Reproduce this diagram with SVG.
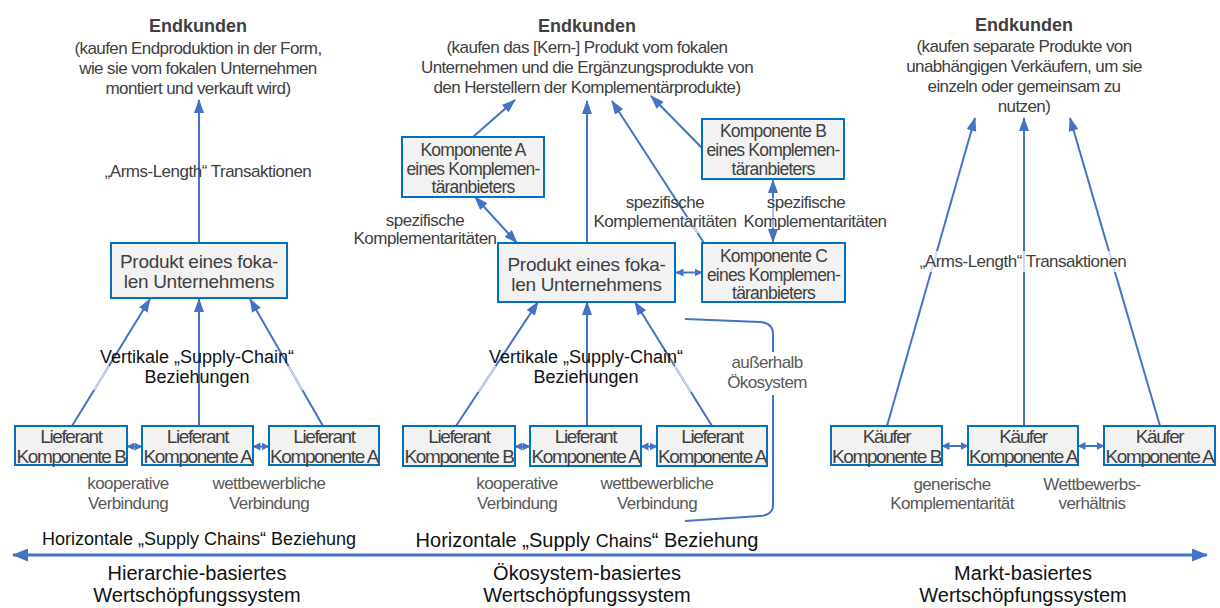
<svg xmlns="http://www.w3.org/2000/svg" width="1220" height="608" viewBox="0 0 1220 608">
  <defs>
    <style>
      text { font-family: "Liberation Sans", Arial, sans-serif; text-anchor: middle; }
      .box { fill: #f2f2f2; stroke: #0070c0; stroke-width: 2; }
      .title { font-size: 18px; font-weight: bold; fill: #404040; }
      .sub { font-size: 17px; letter-spacing: -0.6px; fill: #404040; }
      .bx { font-size: 19px; letter-spacing: -1.4px; fill: #404040; }
      .bx3 { font-size: 17.5px; letter-spacing: -0.8px; fill: #404040; }
      .focal { font-size: 19px; letter-spacing: -0.3px; fill: #404040; }
      .lbl { font-size: 17px; letter-spacing: -0.6px; fill: #595959; }
      .arm { font-size: 17px; letter-spacing: -0.5px; fill: #404040; }
      .dark { font-size: 18px; fill: #111111; }
      .sys { font-size: 20px; fill: #111111; }
      .conn { stroke: #4472c4; stroke-width: 2; fill: none; }
      .fade { stroke: #c8d5ef; stroke-width: 2; fill: none; }
      .arrow { marker-end: url(#ah); }
      .both { marker-start: url(#ah); marker-end: url(#ah); }
      .small { marker-start: url(#ahs); marker-end: url(#ahs); }
    </style>
    <marker id="ah" markerUnits="userSpaceOnUse" viewBox="0 0 14 10" refX="13" refY="5" markerWidth="14" markerHeight="10" orient="auto-start-reverse">
      <path d="M0,0 L14,5 L0,10 z" fill="#4472c4"/>
    </marker>
    <marker id="ahs" markerUnits="userSpaceOnUse" viewBox="0 0 8 8" refX="7.5" refY="4" markerWidth="8" markerHeight="8" orient="auto-start-reverse">
      <path d="M0,0 L8,4 L0,8 z" fill="#4472c4"/>
    </marker>
    <marker id="ahb" markerUnits="userSpaceOnUse" viewBox="0 0 16 13" refX="15" refY="6.5" markerWidth="16" markerHeight="13" orient="auto-start-reverse">
      <path d="M0,0 L16,6.5 L0,13 z" fill="#4472c4"/>
    </marker>
  </defs>

  <rect width="1220" height="608" fill="#ffffff"/>

  <!-- connectors -->
  <g id="connectors">
    <!-- hierarchy-based system -->
    <line class="conn arrow" x1="199" y1="243" x2="199" y2="100"/>
    <line class="conn arrow" x1="72" y1="426" x2="150" y2="299"/>
    <line class="conn arrow" x1="199" y1="426" x2="199" y2="299"/>
    <line class="conn arrow" x1="323" y1="426" x2="250" y2="299"/>
    <line class="fade" x1="94" y1="390" x2="109" y2="366"/>
    <line class="fade" x1="302.6" y1="390" x2="288.5" y2="366"/>
    <line class="conn small" x1="127" y1="446.5" x2="142" y2="446.5"/>
    <line class="conn small" x1="253" y1="446.5" x2="269" y2="446.5"/>

    <!-- ecosystem-based system -->
    <line class="conn arrow" x1="473" y1="137" x2="515" y2="100"/>
    <line class="conn arrow" x1="587" y1="243" x2="587" y2="101"/>
    <line class="conn arrow" x1="704" y1="243" x2="612" y2="101"/>
    <line class="conn arrow" x1="702" y1="148" x2="651" y2="96"/>
    <line class="conn both" x1="475" y1="197" x2="517" y2="243"/>
    <line class="conn both" x1="773" y1="180" x2="773" y2="242"/>
    <line class="conn small" x1="676" y1="272.5" x2="702" y2="272.5"/>
    <line class="fade" x1="687.2" y1="217" x2="697.5" y2="233"/>
    <line x1="773" y1="198" x2="773" y2="228" stroke="#a9bfe8" stroke-width="2"/>

    <line class="conn arrow" x1="456" y1="426" x2="538" y2="302"/>
    <line class="conn arrow" x1="587" y1="426" x2="587" y2="302"/>
    <line class="conn arrow" x1="712" y1="426" x2="635" y2="302"/>
    <line class="fade" x1="478.2" y1="392" x2="495.6" y2="366"/>
    <line class="fade" x1="691.2" y1="392" x2="674.8" y2="366"/>
    <line class="conn small" x1="515" y1="446.5" x2="530" y2="446.5"/>
    <line class="conn small" x1="641" y1="446.5" x2="657" y2="446.5"/>

    <!-- bracket around the supply-chain part outside the ecosystem -->
    <path class="conn" d="M685,319 L760,322 Q773,323 773,334 L773,352"/>
    <path class="conn" d="M773,395 L773,505 Q773,515 760,516 L685,521"/>

    <!-- market-based system -->
    <line class="conn arrow" x1="887" y1="426" x2="975" y2="118"/>
    <line class="conn arrow" x1="1024" y1="426" x2="1024" y2="118"/>
    <line class="conn arrow" x1="1160" y1="426" x2="1070" y2="118"/>
    <line class="conn small" x1="942" y1="446" x2="968" y2="446"/>
    <line class="conn small" x1="1078" y1="446" x2="1104" y2="446"/>

    <!-- horizontal axis -->
    <line x1="13" y1="555" x2="1207" y2="555" stroke="#4472c4" stroke-width="3" marker-start="url(#ahb)" marker-end="url(#ahb)"/>
  </g>

  <!-- customers -->
  <g id="endkunden-hierarchie">
    <text class="title" x="198" y="31.5">Endkunden</text>
    <text class="sub" x="198" y="53.5">(kaufen Endproduktion in der Form,</text>
    <text class="sub" x="198" y="73.5">wie sie vom fokalen Unternehmen</text>
    <text class="sub" x="198" y="93.5">montiert und verkauft wird)</text>
  </g>
  <g id="endkunden-oekosystem">
    <text class="title" x="587" y="31.5">Endkunden</text>
    <text class="sub" x="587" y="52.5">(kaufen das  [Kern-] Produkt vom fokalen</text>
    <text class="sub" x="587" y="72.5">Unternehmen und die Ergänzungsprodukte von</text>
    <text class="sub" x="587" y="92.5">den Herstellern der Komplementärprodukte)</text>
  </g>
  <g id="endkunden-markt">
    <text class="title" x="1024" y="31">Endkunden</text>
    <text class="sub" x="1024" y="52">(kaufen separate Produkte von</text>
    <text class="sub" x="1024" y="72">unabhängigen Verkäufern, um sie</text>
    <text class="sub" x="1024" y="92">einzeln oder gemeinsam zu</text>
    <text class="sub" x="1024" y="112">nutzen)</text>
  </g>

  <!-- hierarchy-based nodes -->
  <g id="fokal-hierarchie">
    <rect class="box" x="111" y="243" width="176" height="55"/>
    <text class="focal" x="199" y="268">Produkt eines foka-</text>
    <text class="focal" x="199" y="288">len Unternehmens</text>
  </g>
  <g id="lieferant-h1">
    <rect class="box" x="15" y="426" width="112" height="39"/>
    <text class="bx" x="71" y="443">Lieferant</text>
    <text class="bx" x="71" y="463">Komponente B</text>
  </g>
  <g id="lieferant-h2">
    <rect class="box" x="142" y="426" width="111" height="39"/>
    <text class="bx" x="197.5" y="443">Lieferant</text>
    <text class="bx" x="197.5" y="463">Komponente A</text>
  </g>
  <g id="lieferant-h3">
    <rect class="box" x="269" y="426" width="110" height="39"/>
    <text class="bx" x="324" y="443">Lieferant</text>
    <text class="bx" x="324" y="463">Komponente A</text>
  </g>

  <!-- ecosystem-based nodes -->
  <g id="komplement-a">
    <rect class="box" x="402" y="137" width="142" height="60"/>
    <text class="bx3" x="473" y="155.5">Komponente A</text>
    <text class="bx3" x="473" y="174.5">eines Komplemen-</text>
    <text class="bx3" x="473" y="193">täranbieters</text>
  </g>
  <g id="komplement-b">
    <rect class="box" x="702" y="119" width="142" height="60"/>
    <text class="bx3" x="773" y="137">Komponente B</text>
    <text class="bx3" x="773" y="156">eines Komplemen-</text>
    <text class="bx3" x="773" y="174.5">täranbieters</text>
  </g>
  <g id="komplement-c">
    <rect class="box" x="702" y="243" width="143" height="59"/>
    <text class="bx3" x="773.5" y="261.5">Komponente C</text>
    <text class="bx3" x="773.5" y="280.5">eines Komplemen-</text>
    <text class="bx3" x="773.5" y="299">täranbieters</text>
  </g>
  <g id="fokal-oekosystem">
    <rect class="box" x="498" y="243" width="177" height="59"/>
    <text class="focal" x="586.5" y="271">Produkt eines foka-</text>
    <text class="focal" x="586.5" y="291">len Unternehmens</text>
  </g>
  <g id="lieferant-o1">
    <rect class="box" x="403" y="426" width="112" height="40"/>
    <text class="bx" x="459" y="443">Lieferant</text>
    <text class="bx" x="459" y="463">Komponente B</text>
  </g>
  <g id="lieferant-o2">
    <rect class="box" x="530" y="426" width="111" height="40"/>
    <text class="bx" x="585.5" y="443">Lieferant</text>
    <text class="bx" x="585.5" y="463">Komponente A</text>
  </g>
  <g id="lieferant-o3">
    <rect class="box" x="657" y="426" width="110" height="40"/>
    <text class="bx" x="712" y="443">Lieferant</text>
    <text class="bx" x="712" y="463">Komponente A</text>
  </g>

  <!-- market-based nodes -->
  <g id="kaeufer-1">
    <rect class="box" x="831" y="426" width="111" height="39"/>
    <text class="bx" x="886.5" y="443">Käufer</text>
    <text class="bx" x="886.5" y="463">Komponente B</text>
  </g>
  <g id="kaeufer-2">
    <rect class="box" x="968" y="426" width="110" height="39"/>
    <text class="bx" x="1023" y="443">Käufer</text>
    <text class="bx" x="1023" y="463">Komponente A</text>
  </g>
  <g id="kaeufer-3">
    <rect class="box" x="1104" y="426" width="111" height="39"/>
    <text class="bx" x="1159.5" y="443">Käufer</text>
    <text class="bx" x="1159.5" y="463">Komponente A</text>
  </g>

  <!-- relationship labels -->
  <g id="labels">
    <text class="arm" x="208" y="177">„Arms-Length“ Transaktionen</text>
    <text class="dark" x="197" y="363">Vertikale „Supply-Chain“</text>
    <text class="dark" x="197" y="383">Beziehungen</text>
    <text class="lbl" x="128" y="489">kooperative</text>
    <text class="lbl" x="128" y="509">Verbindung</text>
    <text class="lbl" x="269" y="489">wettbewerbliche</text>
    <text class="lbl" x="269" y="509">Verbindung</text>

    <text class="arm" x="425" y="226">spezifische</text>
    <text class="arm" x="425" y="244">Komplementaritäten</text>
    <text class="arm" x="665" y="208">spezifische</text>
    <text class="arm" x="665" y="226.5">Komplementaritäten</text>
    <text class="arm" x="806" y="208">spezifische</text>
    <text class="arm" x="815" y="226.5">Komplementaritäten</text>
    <text class="dark" x="586" y="363">Vertikale „Supply-Chain“</text>
    <text class="dark" x="586" y="383">Beziehungen</text>
    <text class="lbl" x="767" y="368">außerhalb</text>
    <text class="lbl" x="767" y="388">Ökosystem</text>
    <text class="lbl" x="517" y="489">kooperative</text>
    <text class="lbl" x="517" y="509">Verbindung</text>
    <text class="lbl" x="657" y="489">wettbewerbliche</text>
    <text class="lbl" x="657" y="509">Verbindung</text>

    <rect x="916" y="251" width="214" height="21" fill="#ffffff" fill-opacity="0.75"/>
    <text class="arm" x="1023" y="267">„Arms-Length“ Transaktionen</text>
    <text class="lbl" x="952" y="490">generische</text>
    <text class="lbl" x="952" y="509">Komplementarität</text>
    <text class="lbl" x="1092" y="490">Wettbewerbs-</text>
    <text class="lbl" x="1092" y="509">verhältnis</text>

    <text class="dark" x="199" y="545">Horizontale „Supply Chains“ Beziehung</text>
    <text class="sys" x="587" y="547">Horizontale „Supply <tspan font-size="18">Chains</tspan>“ Beziehung</text>
  </g>

  <!-- system names on the axis -->
  <g id="systeme">
    <text class="sys" x="197" y="580">Hierarchie-basiertes</text>
    <text class="sys" x="197" y="602">Wertschöpfungssystem</text>
    <text class="sys" x="587" y="580">Ökosystem-basiertes</text>
    <text class="sys" x="587" y="602">Wertschöpfungssystem</text>
    <text class="sys" x="1023" y="580">Markt-basiertes</text>
    <text class="sys" x="1023" y="602">Wertschöpfungssystem</text>
  </g>
</svg>
